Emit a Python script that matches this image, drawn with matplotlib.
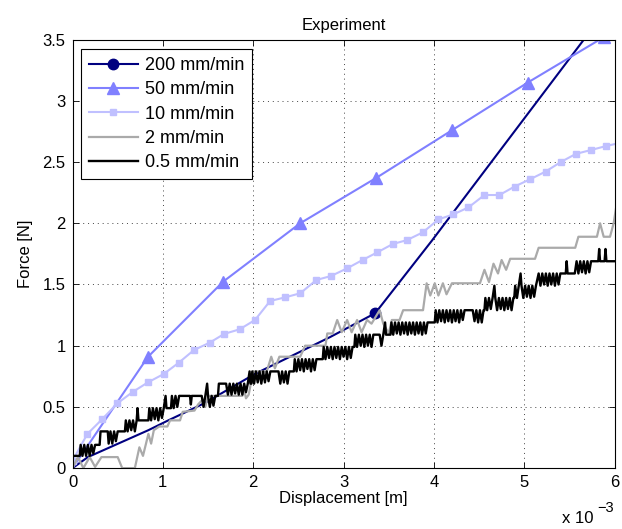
import matplotlib
matplotlib.use("Agg")
import matplotlib.pyplot as plt
import numpy as np

plt.rcParams['font.family'] = ['Liberation Sans', 'DejaVu Sans']

# displacement values are in units of 1e-3 m (axis shows "x 10^-3")
x200 = [0.0, 0.17, 0.84, 1.06, 1.46, 2.02, 2.85, 3.35, 3.98, 5.66, 5.85]
y200 = [0.0, 0.09, 0.31, 0.39, 0.53, 0.77, 1.07, 1.265, 1.86, 3.50, 3.69]

x50 = [0.0, 0.835, 1.667, 2.52, 3.36, 4.20, 5.04, 5.88]
y50 = [0.0, 0.909, 1.523, 2.00, 2.37, 2.76, 3.15, 3.52]

x10 = [0.0, 0.164, 0.33, 0.496, 0.67, 0.836, 1.01, 1.176, 1.345, 1.519, 1.678,
       1.85, 2.02, 2.187, 2.353, 2.52, 2.70, 2.86, 3.04, 3.21, 3.375, 3.546,
       3.70, 3.878, 4.051, 4.217, 4.383, 4.56, 4.726, 4.893, 5.066, 5.236,
       5.406, 5.572, 5.742, 5.911, 6.08]
y10 = [0.06, 0.279, 0.401, 0.529, 0.624, 0.701, 0.769, 0.861, 0.965, 1.025, 1.096,
       1.134, 1.21, 1.365, 1.395, 1.428, 1.537, 1.569, 1.632, 1.70, 1.763, 1.831,
       1.862, 1.926, 2.032, 2.073, 2.130, 2.231, 2.231, 2.30, 2.36, 2.422,
       2.501, 2.567, 2.599, 2.632, 2.66]

# 2 mm/min (x, y)
gray_pts = [
    (0.00, 0.00), (0.06, 0.09), (0.12, 0.00), (0.19, 0.09), (0.25, 0.01), (0.32, 0.09),
    (0.50, 0.09), (0.55, 0.00), (0.69, 0.00), (0.74, 0.17), (0.78, 0.10), (0.84, 0.28),
    (0.87, 0.20), (0.90, 0.31), (0.96, 0.34), (1.05, 0.34), (1.08, 0.39), (1.19, 0.39),
    (1.22, 0.46), (1.35, 0.47), (1.39, 0.52), (1.44, 0.56), (1.47, 0.50), (1.50, 0.59),
    (1.88, 0.59), (1.90, 0.64), (1.92, 0.57), (1.95, 0.60), (2.00, 0.79), (2.15, 0.79),
    (2.20, 0.91), (2.24, 0.815), (2.29, 0.91), (2.52, 0.91), (2.575, 1.00), (2.80, 1.00),
    (2.82, 1.10), (2.88, 1.10), (2.93, 1.21), (2.98, 1.11), (3.04, 1.21), (3.09, 1.11),
    (3.15, 1.21), (3.20, 1.11), (3.26, 1.21), (3.31, 1.18), (3.40, 1.29), (3.44, 1.18),
    (3.50, 1.10), (3.535, 1.21), (3.62, 1.21), (3.66, 1.29), (3.88, 1.29), (3.92, 1.51),
    (3.96, 1.41), (4.01, 1.51), (4.05, 1.41), (4.10, 1.51), (4.14, 1.42), (4.20, 1.51),
    (4.51, 1.51), (4.56, 1.62), (4.61, 1.52), (4.66, 1.67), (4.71, 1.59), (4.75, 1.70),
    (4.80, 1.62), (4.845, 1.71), (5.12, 1.71), (5.16, 1.80), (5.565, 1.80), (5.60, 1.89),
    (5.805, 1.89), (5.84, 2.00), (5.88, 1.89), (5.95, 1.89), (5.99, 2.00), (6.02, 2.14),
]

# 0.5 mm/min (x, y), noisy steps
black_pts = [
    (0.00, 0.00), (0.00, 0.10), (0.08, 0.10), (0.09, 0.19), (0.11, 0.10), (0.13, 0.19),
    (0.15, 0.10), (0.17, 0.19), (0.19, 0.10), (0.21, 0.19), (0.23, 0.12), (0.25, 0.19),
    (0.30, 0.19),
    (0.31, 0.30), (0.39, 0.30), (0.40, 0.20), (0.42, 0.30), (0.44, 0.20), (0.46, 0.30),
    (0.48, 0.22), (0.50, 0.30), (0.58, 0.30),
    (0.59, 0.39), (0.61, 0.30), (0.63, 0.39), (0.65, 0.31), (0.67, 0.39), (0.69, 0.30),
    (0.71, 0.39), (0.72, 0.49), (0.73, 0.39), (0.84, 0.39),
    (0.85, 0.49), (0.87, 0.39), (0.89, 0.49), (0.91, 0.40), (0.93, 0.49), (0.95, 0.39),
    (0.97, 0.49), (0.99, 0.41), (1.01, 0.49), (1.03, 0.59), (1.04, 0.49), (1.09, 0.49),
    (1.10, 0.59), (1.12, 0.49), (1.14, 0.59), (1.16, 0.50), (1.18, 0.59), (1.30, 0.59),
    (1.31, 0.52), (1.32, 0.59), (1.43, 0.59), (1.45, 0.50), (1.47, 0.59), (1.49, 0.69),
    (1.50, 0.59), (1.52, 0.50), (1.54, 0.59), (1.56, 0.51), (1.58, 0.59), (1.61, 0.59),
    (1.62, 0.69), (1.70, 0.69), (1.72, 0.60), (1.74, 0.69), (1.76, 0.60), (1.78, 0.69),
    (1.80, 0.61), (1.82, 0.69), (1.84, 0.60), (1.86, 0.69), (1.88, 0.60), (1.90, 0.69),
    (1.92, 0.62), (1.94, 0.69), (1.96, 0.79), (1.97, 0.69), (1.98, 0.69),
    (1.99, 0.79), (2.01, 0.69), (2.03, 0.79), (2.05, 0.70), (2.07, 0.79), (2.09, 0.69),
    (2.11, 0.79), (2.13, 0.70), (2.15, 0.79), (2.17, 0.71), (2.19, 0.79), (2.28, 0.79),
    (2.30, 0.69), (2.32, 0.79), (2.34, 0.70), (2.36, 0.79), (2.38, 0.69), (2.40, 0.79),
    (2.45, 0.79),
    (2.46, 0.89), (2.48, 0.79), (2.50, 0.89), (2.52, 0.80), (2.54, 0.89), (2.56, 0.79),
    (2.58, 0.89), (2.60, 0.81), (2.62, 0.89), (2.64, 0.79), (2.66, 0.89), (2.68, 0.80),
    (2.70, 0.89), (2.77, 0.89),
    (2.78, 0.99), (2.80, 0.89), (2.82, 0.99), (2.84, 0.90), (2.86, 0.99), (2.88, 0.89),
    (2.90, 0.99), (2.92, 0.90), (2.94, 0.99), (2.96, 0.89), (2.98, 0.99), (3.00, 0.91),
    (3.02, 0.99), (3.04, 0.89), (3.06, 0.99), (3.08, 0.90), (3.10, 0.99), (3.12, 0.99),
    (3.13, 1.09), (3.15, 0.99), (3.17, 1.09), (3.19, 1.00), (3.21, 1.09), (3.23, 0.99),
    (3.25, 1.09), (3.27, 1.00), (3.29, 1.09), (3.31, 0.99), (3.33, 1.09), (3.40, 1.09),
    (3.42, 1.00), (3.44, 1.09), (3.46, 1.19), (3.47, 1.09), (3.52, 1.09),
    (3.53, 1.19), (3.55, 1.09), (3.57, 1.19), (3.59, 1.10), (3.61, 1.19), (3.63, 1.09),
    (3.65, 1.19), (3.67, 1.10), (3.69, 1.19), (3.71, 1.09), (3.73, 1.19), (3.75, 1.10),
    (3.77, 1.19), (3.79, 1.09), (3.81, 1.19), (3.83, 1.10), (3.85, 1.19), (3.87, 1.09),
    (3.89, 1.19), (3.91, 1.10), (3.93, 1.19), (4.01, 1.19),
    (4.02, 1.29), (4.04, 1.19), (4.06, 1.29), (4.08, 1.20), (4.10, 1.29), (4.12, 1.19),
    (4.14, 1.29), (4.16, 1.20), (4.18, 1.29), (4.20, 1.19), (4.22, 1.29), (4.24, 1.20),
    (4.26, 1.29), (4.28, 1.19), (4.30, 1.29), (4.32, 1.21), (4.34, 1.29), (4.43, 1.29),
    (4.45, 1.20), (4.47, 1.29), (4.49, 1.19), (4.51, 1.29), (4.53, 1.19), (4.55, 1.29),
    (4.56, 1.29),
    (4.57, 1.39), (4.59, 1.29), (4.61, 1.39), (4.63, 1.30), (4.65, 1.39), (4.67, 1.49),
    (4.68, 1.39), (4.70, 1.29), (4.72, 1.39), (4.74, 1.30), (4.76, 1.39), (4.78, 1.29),
    (4.80, 1.39), (4.82, 1.30), (4.84, 1.39), (4.86, 1.29), (4.88, 1.39), (4.89, 1.39),
    (4.90, 1.49), (4.92, 1.39), (4.94, 1.49), (4.96, 1.59), (4.97, 1.49), (4.99, 1.39),
    (5.01, 1.49), (5.03, 1.40), (5.05, 1.49), (5.07, 1.39), (5.09, 1.49), (5.11, 1.40),
    (5.13, 1.49), (5.16, 1.59), (5.18, 1.49), (5.20, 1.59), (5.22, 1.50), (5.24, 1.59),
    (5.26, 1.49), (5.28, 1.59), (5.30, 1.50), (5.32, 1.59), (5.34, 1.49), (5.36, 1.59),
    (5.38, 1.50), (5.40, 1.59),
    (5.46, 1.59), (5.47, 1.69), (5.48, 1.59), (5.56, 1.59), (5.58, 1.69), (5.60, 1.59),
    (5.62, 1.69), (5.64, 1.60), (5.66, 1.69), (5.68, 1.59), (5.70, 1.69), (5.72, 1.60),
    (5.74, 1.69),
    (5.82, 1.69), (5.83, 1.79), (5.84, 1.69), (5.89, 1.69), (5.90, 1.79), (5.91, 1.69),
    (6.00, 1.69),
]

labels = ['200 mm/min', '50 mm/min', '10 mm/min', '2 mm/min', '0.5 mm/min']
xticks = [0, 1, 2, 3, 4, 5, 6]
yticks = [0, 0.5, 1, 1.5, 2, 2.5, 3, 3.5]
ytick_labels = ['0', '0.5', '1', '1.5', '2', '2.5', '3', '3.5']

gx, gy = zip(*gray_pts)
bx, by = zip(*black_pts)

FS = 12

fig = plt.figure(figsize=(6.22, 5.29), dpi=100)
ax = fig.add_axes([0.1166, 0.1151, 0.8714, 0.8099])

ax.plot(x200, y200, color='#000080', lw=1.5, marker='o', ms=7.5,
        markevery=[7], label=labels[0])
ax.plot(x50, y50, color='#8080FF', lw=1.5, marker='^', ms=8,
        markevery=slice(1, None), label=labels[1])
ax.plot(x10, y10, color='#C0C0FF', lw=1.5, marker='s', ms=4.2, label=labels[2])
ax.plot(gx, gy, color='#AAAAAA', lw=1.6, label=labels[3])
ax.plot(bx, by, color='black', lw=1.7, label=labels[4])

ax.set_xlim(0, 6)
ax.set_ylim(0, 3.5)
ax.set_xticks(xticks)
ax.set_xticklabels([str(t) for t in xticks])
ax.set_yticks(yticks)
ax.set_yticklabels(ytick_labels)
ax.tick_params(direction='in', length=4, width=0.6, top=True, right=True,
               labelsize=FS, pad=5)
ax.grid(True, linestyle=(0, (1, 4)), color='#444444', lw=0.7)
for s in ax.spines.values():
    s.set_linewidth(0.8)

ax.set_title('Experiment', fontsize=FS, pad=7)
ax.set_xlabel('Displacement [m]', fontsize=FS, labelpad=1)
ax.set_ylabel('Force [N]', fontsize=FS, labelpad=7)
fig.text(0.903, 0.011, 'x 10', fontsize=FS, va='baseline')
fig.text(0.961, 0.033, '\u22123', fontsize=10.5, va='baseline')

leg = ax.legend(loc='upper left', bbox_to_anchor=(0.015, 0.978), borderaxespad=0,
                fontsize=13, handlelength=2.7, handletextpad=0.4,
                labelspacing=0.4, borderpad=0.45, fancybox=False, framealpha=1)
leg.get_frame().set_edgecolor('black')
leg.get_frame().set_linewidth(0.8)

fig.savefig('out.png', dpi=100)
